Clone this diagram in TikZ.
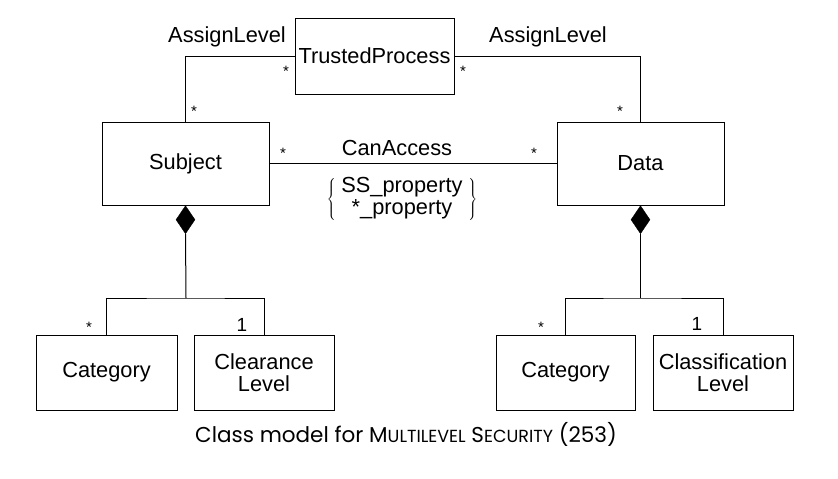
\documentclass[tikz,border=0pt]{standalone}
\usepackage{fontspec}
\setmainfont{Liberation Sans}
\newfontfamily\capfont{Poppins}
\usetikzlibrary{shapes.geometric}

\begin{document}
\begin{tikzpicture}[x=1pt,y=-1pt,
    every node/.style={inner sep=0pt, font=\fontsize{21.8}{24}\selectfont},
    cls/.style={draw, line width=1pt, minimum height=75pt, minimum width=140pt, align=center},
    mult/.style={font=\fontsize{15}{16}\selectfont},
    one/.style={font=\fontsize{19}{20}\selectfont},
    comp/.style={diamond, fill=black, draw, minimum width=19pt, minimum height=28pt, aspect=0.7}]
    \useasboundingbox (0,0) rectangle (838,479);
    % classes
    \node[cls, minimum width=159pt, minimum height=76pt] (tp) at (374.5,56) {TrustedProcess};
    \node[cls, minimum width=167pt, minimum height=83pt] (subj) at (185.5,163.5) {Subject};
    \node[cls, minimum width=167pt, minimum height=83pt] (data) at (640.5,163.5) {Data};
    \node[cls, minimum width=141pt] (catS) at (106.5,372.5) {Category};
    \node[cls] (clr) at (264,372.5) {Clearance\\[-2pt]Level};
    \node[cls, minimum width=139pt] (catD) at (565.5,372.5) {Category};
    \node[cls] (cls) at (723,372.5) {Classification\\[-2pt]Level};
    % associations
    \draw[line width=1pt] (subj.north) |- (tp.west);
    \draw[line width=1pt] (data.north) |- (tp.east);
    \draw[line width=1pt] (subj.east) -- (data.west);
    \node (alS) at (227,37) {AssignLevel};
    \node (alD) at (548,37) {AssignLevel};
    \node (acc) at (397,148) {CanAccess};
    \node (prop) at (402,199) {$\left\{\;\mbox{\begin{tabular}{@{}c@{}}SS\_property\\[-2pt] *\_property\end{tabular}}\;\right\}$};
    \node[mult] (m1) at (286,71) {*};
    \node[mult] (m2) at (463,71) {*};
    \node[mult] (m3) at (194,111) {*};
    \node[mult] (m4) at (620,111) {*};
    \node[mult] (m5) at (283,153) {*};
    \node[mult] (m6) at (534,153) {*};
    % compositions
    \node[comp, anchor=north] (dS) at (subj.south) {};
    \node[comp, anchor=north] (dD) at (data.south) {};
    \coordinate (jS) at (186,298);
    \coordinate (jD) at (640.5,298);
    \draw[line width=1pt] (dS.south) -- (jS);
    \draw[line width=1pt] (catS.north) |- (jS) -| (clr.north);
    \draw[line width=1pt] (dD.south) -- (jD);
    \draw[line width=1pt] (catD.north) |- (jD) -| (cls.north);
    \node[mult] (m7) at (89,327) {*};
    \node[one] (m8) at (242,325) {1};
    \node[mult] (m9) at (541,327) {*};
    \node[one] (m10) at (697,324) {1};
    % caption
    \node[font=\capfont\fontsize{21.5}{24}\selectfont] (cap) at (406,434)
        {Class model for M{\fontsize{17.5}{20}\selectfont ULTILEVEL} S{\fontsize{17.5}{20}\selectfont ECURITY} (253)};
\end{tikzpicture}
\end{document}
